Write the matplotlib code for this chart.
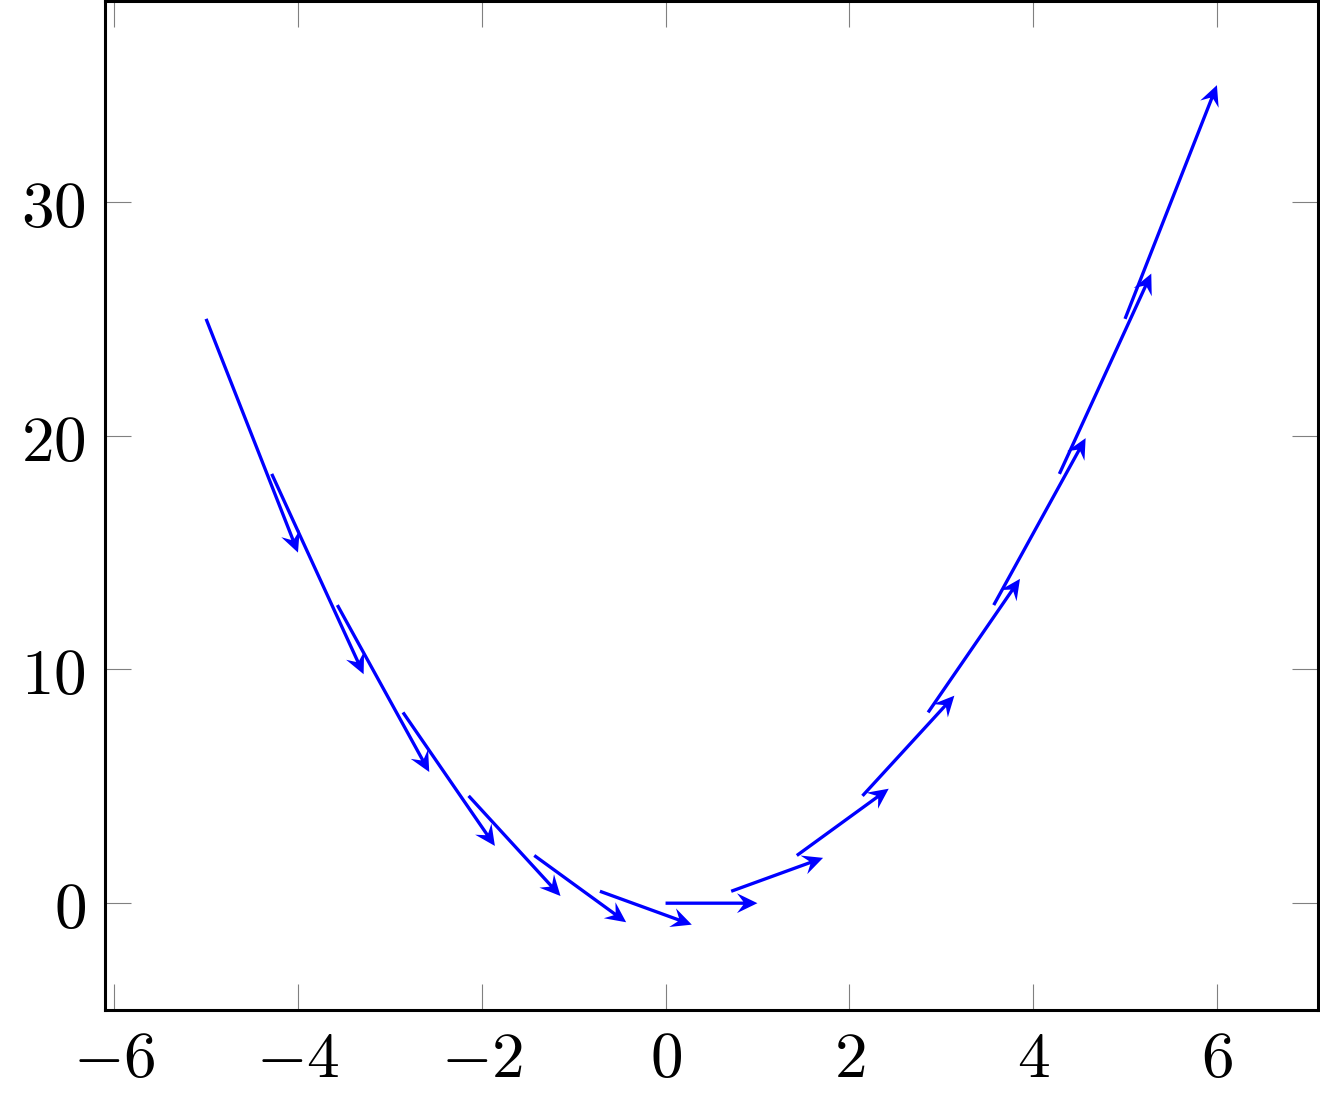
import matplotlib
matplotlib.use("Agg")
import matplotlib.pyplot as plt

plt.rcParams['mathtext.fontset'] = 'cm'

# points sur y = x^2 et vecteurs (1, 2x)
x = [-5, -4.2857, -3.5714, -2.8571, -2.1429, -1.4286, -0.7143, 0,
     0.7143, 1.4286, 2.1429, 2.8571, 3.5714, 4.2857, 5]
y = [25, 18.367, 12.755, 8.163, 4.592, 2.041, 0.510, 0,
     0.510, 2.041, 4.592, 8.163, 12.755, 18.367, 25]
u = [1, 1, 1, 1, 1, 1, 1, 1, 1, 1, 1, 1, 1, 1, 1]
v = [-10, -8.571, -7.143, -5.714, -4.286, -2.857, -1.429, 0,
     1.429, 2.857, 4.286, 5.714, 7.143, 8.571, 10]

xticks = [-6, -4, -2, 0, 2, 4, 6]
yticks = [0, 10, 20, 30]

fig = plt.figure(figsize=(13.2, 10.98), dpi=100)
ax = fig.add_axes([105 / 1320, 1 - 1010 / 1098, 1213 / 1320, 1009 / 1098])

ax.quiver(x, y, u, v, angles='xy', scale_units='xy', scale=1,
          color=(0, 0, 1), units='dots', width=3.3,
          headlength=6.2, headwidth=6.0, headaxislength=4.3)

ax.set_xlim(-6.1, 7.1)
ax.set_ylim(-4.57, 38.6)

ax.set_xticks(xticks)
ax.set_xticklabels([f'${t}$' for t in xticks])
ax.set_yticks(yticks)
ax.set_yticklabels([f'${t}$' for t in yticks])

ax.tick_params(direction='in', length=19, width=0.8, color='#808080',
               top=True, right=True, labelsize=47)
ax.tick_params(axis='x', pad=12)
ax.tick_params(axis='y', pad=14)
for s in ax.spines.values():
    s.set_linewidth(2.2)

fig.savefig('out.png', dpi=100)
